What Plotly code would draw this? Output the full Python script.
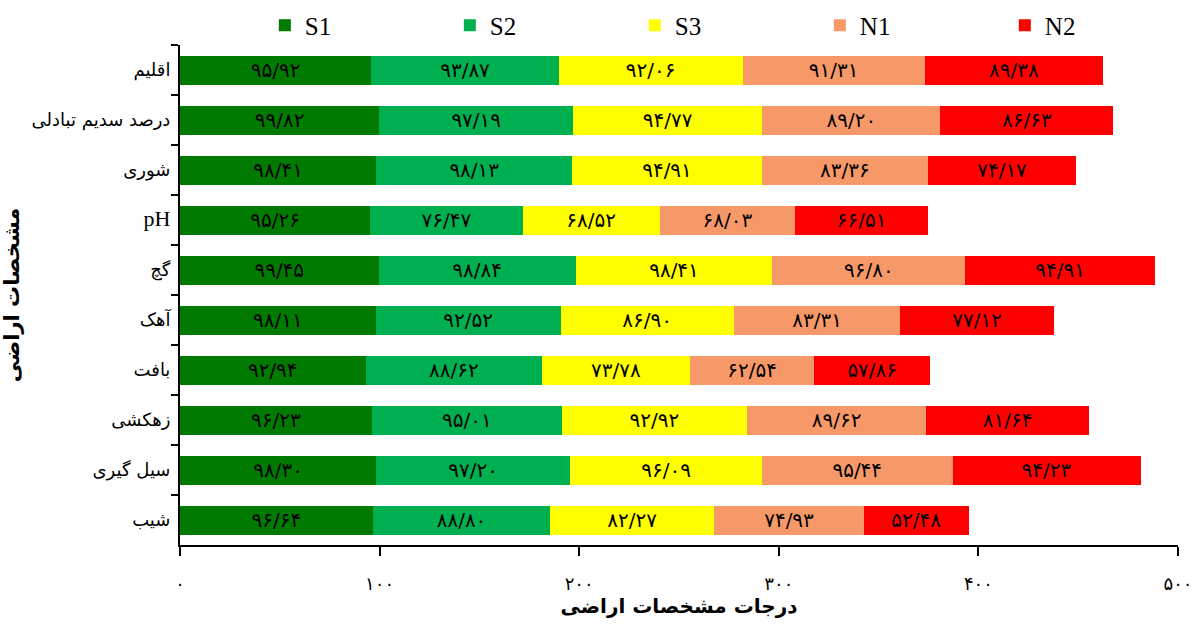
import plotly.graph_objects as go

# Land characteristics (top to bottom)
characteristics = ["اقلیم", "درصد سدیم تبادلی", "شوری", "pH", "گچ", "آهک",
                   "بافت", "زهکشی", "سیل گیری", "شیب"]

s1 = [95.92, 99.82, 98.41, 95.26, 99.45, 98.11, 92.94, 96.23, 98.30, 96.64]
s2 = [93.87, 97.19, 98.13, 76.47, 98.84, 92.52, 88.62, 95.01, 97.20, 88.80]
s3 = [92.06, 94.77, 94.91, 68.52, 98.41, 86.90, 73.78, 92.92, 96.09, 82.27]
n1 = [91.31, 89.20, 83.36, 68.03, 96.80, 83.31, 62.54, 89.62, 95.44, 74.93]
n2 = [89.38, 86.63, 74.17, 66.51, 94.91, 77.12, 57.86, 81.64, 94.23, 52.48]

class_names = ["S1", "S2", "S3", "N1", "N2"]
class_colors = ["#007A00", "#00B050", "#FFFF00", "#F79868", "#FF0000"]

x_ticks = [0, 100, 200, 300, 400, 500]

PERSIAN_DIGITS = str.maketrans("0123456789", "۰۱۲۳۴۵۶۷۸۹")


def fa_num(v, decimals=2):
    s = f"{v:.{decimals}f}" if decimals else f"{int(v)}"
    return s.translate(PERSIAN_DIGITS).replace(".", "/")


fa_font = "DejaVu Sans"
serif = "Liberation Serif"

# Latin labels (pH) are set in the serif face, Persian ones in DejaVu Sans
def cat_label(c):
    if c.isascii():
        return f'<span style="font-family:{serif};font-size:22px">{c}</span>'
    return c


cat_labels = [cat_label(c) for c in characteristics]

fig = go.Figure()
for name, vals, col in zip(class_names, [s1, s2, s3, n1, n2], class_colors):
    fig.add_trace(go.Bar(
        y=cat_labels, x=vals, name=name, orientation="h",
        marker=dict(color=col, line=dict(width=0)),
        text=[fa_num(v) for v in vals],
        textposition="inside", insidetextanchor="middle", textangle=0,
        textfont=dict(family=fa_font, size=20, color="black"),
        hoverinfo="x+name",
    ))

fig.update_layout(
    barmode="stack",
    bargap=0.42,
    width=1195, height=625,
    margin=dict(l=180, r=17, t=45, b=80, autoexpand=False),
    plot_bgcolor="white", paper_bgcolor="white",
    uniformtext=dict(minsize=20, mode="show"),
    legend=dict(
        orientation="h", x=0.085, xanchor="left", y=1.085, yanchor="top",
        font=dict(family=serif, size=25, color="black"),
        entrywidth=140, entrywidthmode="pixels",
        traceorder="normal",
    ),
    xaxis=dict(
        range=[0, 500], tickvals=x_ticks,
        ticktext=[fa_num(t, 0) for t in x_ticks],
        showgrid=False, zeroline=False,
        showline=True, linecolor="black", linewidth=2,
        ticks="outside", ticklen=9, tickwidth=2, tickcolor="black",
        ticklabelstandoff=12,
        tickfont=dict(family=fa_font, size=18, color="black"),
        title=dict(text="<b>درجات مشخصات اراضی</b>", standoff=4,
                   font=dict(family=fa_font, size=20, color="black")),
    ),
    yaxis=dict(
        categoryorder="array", categoryarray=cat_labels,
        autorange="reversed",
        showgrid=False, zeroline=False,
        showline=True, linecolor="black", linewidth=2,
        ticks="outside", tickson="boundaries", ticklen=7, tickwidth=2,
        tickcolor="black", ticklabelstandoff=4,
        tickfont=dict(family=fa_font, size=18, color="black"),
        title=dict(text="<b>مشخصات اراضی</b>", standoff=12,
                   font=dict(family=fa_font, size=21, color="black")),
    ),
)

fig.write_html("out.html")
